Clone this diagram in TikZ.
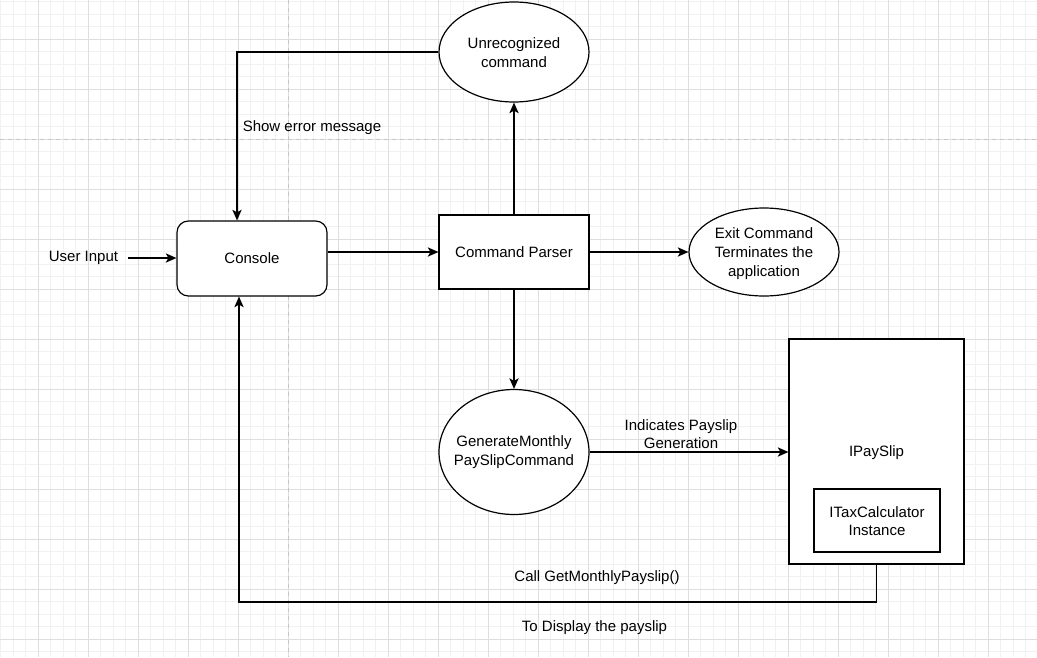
\documentclass[tikz,border=0pt]{standalone}
\usepackage{fontspec}
\setmainfont{Liberation Sans}
\usetikzlibrary{arrows.meta,shapes.geometric}
\definecolor{gridminor}{HTML}{F1F1F1}
\definecolor{gridmajor}{HTML}{DEDEDE}
\definecolor{griddash}{HTML}{C6C6C6}
\tikzset{
  every node/.style={font=\fontsize{11.25pt}{14pt}\selectfont, inner sep=0pt, align=center},
  shapebox/.style={draw=black, fill=white, line width=0.9pt, rectangle},
  roundbox/.style={shapebox, rounded corners=8.5pt},
  ovalbox/.style={draw=black, fill=white, line width=0.9pt, ellipse},
  txt/.style={},
  arr/.style={draw=black, line width=0.9pt, -{Stealth[length=8pt,width=7pt,inset=2pt]}},
  minorline/.style={draw=gridminor, line width=0.6pt},
  majorline/.style={draw=gridmajor, line width=0.75pt},
  dashline/.style={draw=griddash, line width=0.75pt, dash pattern=on 3pt off 3pt},
}
\begin{document}
\begin{tikzpicture}[x=0.75pt, y=-0.75pt]
\useasboundingbox (0,0) rectangle (1037,657);
\fill[white] (0,0) rectangle (1037,657);
% grid
\foreach \i in {0,...,82} {
  \draw[minorline] ({0.8+12.5*\i},0) -- ({0.8+12.5*\i},657);
}
\foreach \i in {0,...,52} {
  \draw[minorline] (0,{1.8+12.5*\i}) -- (1037,{1.8+12.5*\i});
}
\foreach \i in {0,...,20} {
  \draw[majorline] ({38.3+50*\i},0) -- ({38.3+50*\i},657);
}
\foreach \i in {0,...,12} {
  \draw[majorline] (0,{39.3+50*\i}) -- (1037,{39.3+50*\i});
}
\draw[dashline] (288.8,0) -- (288.8,657);
\draw[dashline] (0,139.3) -- (1037,139.3);

% nodes
\node[ovalbox, minimum width=112.5pt, minimum height=75pt] (unrec) at (514,52) {};
\node[txt] (unrectext) at (514,52.5) {Unrecognized\\command};
\node[roundbox, minimum width=112.5pt, minimum height=56.25pt] (console) at (252,258.5) {};
\node[txt] (consoletext) at (252,258.5) {Console};
\node[shapebox, minimum width=112.5pt, minimum height=55.5pt] (parser) at (514,252) {};
\node[txt] (parsertext) at (514,252.5) {Command Parser};
\node[ovalbox, minimum width=112.5pt, minimum height=66pt] (exit) at (764,252) {};
\node[txt] (exittext) at (764,253.5) {Exit Command\\Terminates the\\application};
\node[ovalbox, minimum width=112.5pt, minimum height=93.75pt] (gen) at (514,452) {};
\node[txt] (gentext) at (514,452) {GenerateMonthly\\PaySlipCommand};
\node[shapebox, minimum width=131.25pt, minimum height=168.75pt] (ipay) at (876.5,451.5) {};
\node[txt] (ipaytext) at (876.5,452.5) {IPaySlip};
\node[shapebox, minimum width=94.5pt, minimum height=47.25pt] (itax) at (877,520.5) {};
\node[txt] (itaxtext) at (877,521) {ITaxCalculator\\Instance};

% labels
\node[txt] (userinput) at (83.5,258) {User Input};
\node[txt] (showerr) at (312,128) {Show error message};
\node[txt] (indicates) at (681,434) {Indicates Payslip\\Generation};
\node[txt] (callget) at (597,578) {Call GetMonthlyPayslip()};
\node[txt] (todisplay) at (594.5,628) {To Display the payslip};

\coordinate (bottomrow) at (0,602);

% connectors
\draw[arr, shorten <=7.5pt] (userinput.east) -- (userinput.east -| console.west);
\draw[arr] (console.east |- parser.west) -- (parser.west);
\draw[arr] (parser.east) -- (exit.west);
\draw[arr] (parser.north) -- (unrec.south);
\draw[arr] (unrec.west) -| ([xshift=-11.25pt]console.north);
\draw[arr] (parser.south) -- (gen.north);
\draw[arr] (gen.east) -- (gen.east -| ipay.west);
\draw[arr] (ipay.south) -- (ipay.south |- bottomrow) -| ([xshift=-9.75pt]console.south);
\end{tikzpicture}
\end{document}
